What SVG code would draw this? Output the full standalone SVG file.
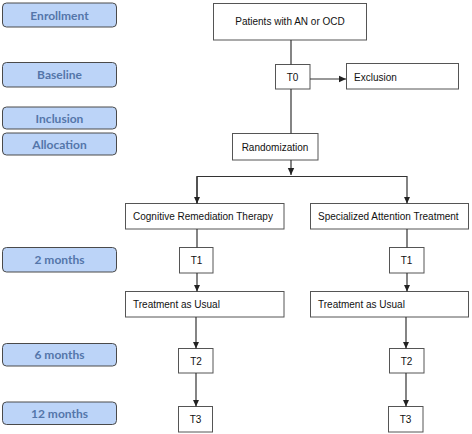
<svg xmlns="http://www.w3.org/2000/svg" width="472" height="434" viewBox="0 0 472 434">
<defs>
<marker id="ah" markerWidth="8" markerHeight="8" refX="7" refY="4" orient="auto" markerUnits="userSpaceOnUse">
<path d="M0,0.8 L7,4 L0,7.2 Z" fill="#222"/>
</marker>
<style>
.lab rect{fill:#bcd4f8;stroke:#4a4a4a;stroke-width:1}
.lab text{font-family:Lato,"Open Sans",sans-serif;font-weight:bold;font-size:12px;fill:#5476aa;text-anchor:middle}
.box rect{fill:#fff;stroke:#555;stroke-width:1}
.box text{font-family:"Liberation Sans",Arial,sans-serif;font-size:10px;fill:#111}
.c{text-anchor:middle}
.conn path{fill:none;stroke:#333;stroke-width:1.2}
</style>
</defs>
<rect width="472" height="434" fill="#fff"/>
<g id="lab-enrollment" class="lab"><rect x="2.5" y="3" width="114" height="24" rx="4"/><text x="59.5" y="19.5">Enrollment</text></g>
<g id="lab-baseline" class="lab"><rect x="2.5" y="62.5" width="114" height="24.5" rx="4"/><text x="59.5" y="79">Baseline</text></g>
<g id="lab-inclusion" class="lab"><rect x="2.5" y="107" width="114" height="22" rx="4"/><text x="59.5" y="122.5">Inclusion</text></g>
<g id="lab-allocation" class="lab"><rect x="2.5" y="133" width="114" height="22" rx="4"/><text x="59.5" y="149">Allocation</text></g>
<g id="lab-2m" class="lab"><rect x="2.5" y="247.5" width="114" height="24.5" rx="4"/><text x="59.5" y="264">2 months</text></g>
<g id="lab-6m" class="lab"><rect x="2.5" y="343.5" width="114" height="22.5" rx="4"/><text x="59.5" y="359">6 months</text></g>
<g id="lab-12m" class="lab"><rect x="2.5" y="402" width="114" height="22.5" rx="4"/><text x="59.5" y="418">12 months</text></g>

<g id="patients" class="box"><rect x="213.5" y="3.5" width="153" height="36.5"/><text class="c" x="290" y="25">Patients with AN or OCD</text></g>
<g id="t0" class="box"><rect x="275.5" y="64.5" width="34.5" height="24.5"/><text class="c" x="292.5" y="80.5">T0</text></g>
<g id="exclusion" class="box"><rect x="346.5" y="63.5" width="112" height="25.5"/><text x="354" y="80.5">Exclusion</text></g>
<g id="randomization" class="box"><rect x="232.5" y="133.5" width="85.5" height="26.5"/><text class="c" x="275" y="150.5">Randomization</text></g>
<g id="crt" class="box"><rect x="125.5" y="203.5" width="158.5" height="25.5"/><text x="133" y="220">Cognitive Remediation Therapy</text></g>
<g id="sat" class="box"><rect x="310.5" y="203.5" width="158" height="25.5"/><text x="318" y="220">Specialized Attention Treatment</text></g>
<g id="t1-l" class="box"><rect x="179.5" y="247.5" width="33.5" height="25.5"/><text class="c" x="196.5" y="264">T1</text></g>
<g id="t1-r" class="box"><rect x="389.5" y="247.5" width="34.5" height="25.5"/><text class="c" x="406.5" y="264">T1</text></g>
<g id="tau-l" class="box"><rect x="125.5" y="291.5" width="158.5" height="25.5"/><text x="133" y="308">Treatment as Usual</text></g>
<g id="tau-r" class="box"><rect x="310.5" y="291.5" width="158" height="25.5"/><text x="318" y="308">Treatment as Usual</text></g>
<g id="t2-l" class="box"><rect x="178.5" y="348.5" width="34.5" height="24.5"/><text class="c" x="196" y="364.5">T2</text></g>
<g id="t2-r" class="box"><rect x="389.5" y="348.5" width="34.5" height="24.5"/><text class="c" x="406.5" y="364.5">T2</text></g>
<g id="t3-l" class="box"><rect x="178.5" y="406.5" width="34" height="25.5"/><text class="c" x="195.5" y="423">T3</text></g>
<g id="t3-r" class="box"><rect x="388.5" y="406.5" width="34.5" height="25.5"/><text class="c" x="405.5" y="423">T3</text></g>

<g id="connectors" class="conn">
<path d="M291,40 V64.5"/>
<path d="M291,89 V133.5"/>
<path d="M310,79 H346" marker-end="url(#ah)"/>
<path d="M291,160 V175" marker-end="url(#ah)"/>
<path d="M197,203.5 V176.5 H407 V203.5" marker-end="url(#ah)"/>
<path d="M197,176.5 V203.5" marker-end="url(#ah)"/>
<path d="M197,229 V247.5"/>
<path d="M407,229 V247.5"/>
<path d="M197,273 V291.5" marker-end="url(#ah)"/>
<path d="M407,273 V291.5" marker-end="url(#ah)"/>
<path d="M196,317 V348.5" marker-end="url(#ah)"/>
<path d="M406,317 V348.5" marker-end="url(#ah)"/>
<path d="M196,373 V406.5" marker-end="url(#ah)"/>
<path d="M406,373 V406.5" marker-end="url(#ah)"/>
</g>
</svg>
